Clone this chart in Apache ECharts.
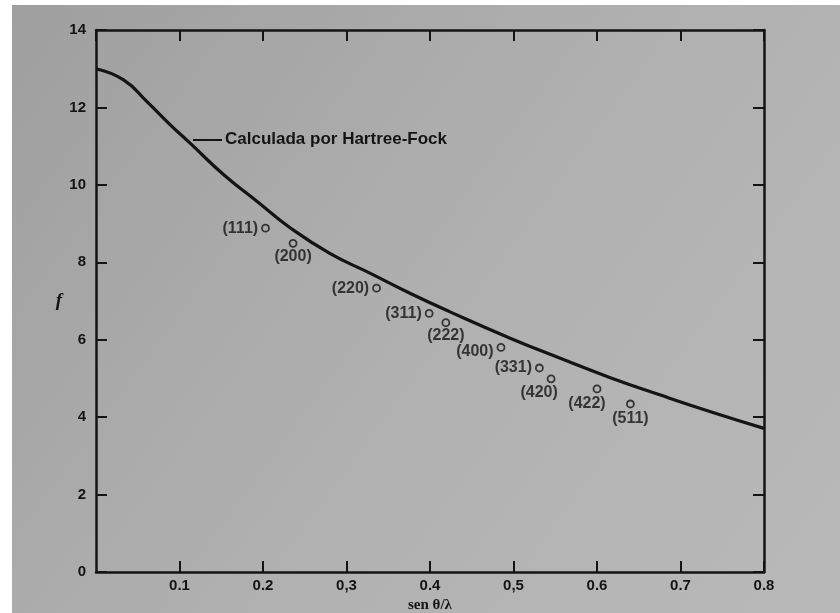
<!DOCTYPE html>
<html>
<head>
<meta charset="utf-8">
<script src="https://cdn.jsdelivr.net/npm/echarts@6/dist/echarts.min.js"></script>
<style>
  html, body { margin: 0; padding: 0; background: #fff; }
  #main { width: 840px; height: 613px; }
</style>
</head>
<body>
<div id="main"></div>
<script>
// curva calculada (Hartree-Fock)
const curveX = [0, 0.033, 0.061, 0.089, 0.113, 0.153, 0.193, 0.232, 0.280, 0.328, 0.376, 0.424, 0.496, 0.556, 0.616, 0.676, 0.736, 0.8];
const curveY = [13.0, 12.71, 12.15, 11.55, 11.07, 10.26, 9.57, 8.90, 8.23, 7.72, 7.20, 6.72, 6.04, 5.52, 5.02, 4.57, 4.14, 3.71];

// puntos medidos
const planes = ['(111)', '(200)', '(220)', '(311)', '(222)', '(400)', '(331)', '(420)', '(422)', '(511)'];
const pointX = [0.203, 0.236, 0.336, 0.399, 0.419, 0.485, 0.531, 0.545, 0.600, 0.640];
const pointY = [8.88, 8.49, 7.33, 6.68, 6.44, 5.80, 5.27, 4.99, 4.73, 4.34];

const xTickLabels = ['0', '0.1', '0.2', '0,3', '0.4', '0,5', '0.6', '0.7', '0.8'];

const chart = echarts.init(document.getElementById('main'));

const ink = '#141414';
const font = '"Liberation Sans", Arial, sans-serif';

// donde va cada etiqueta respecto al punto
const labelPos = {
  '(111)': ['left', [0, 0]],
  '(200)': ['bottom', [0, -2]],
  '(220)': ['left', [0, 0]],
  '(311)': ['left', [0, 0]],
  '(222)': ['bottom', [0, -2]],
  '(400)': ['left', [0, 4]],
  '(331)': ['left', [0, 0]],
  '(420)': ['bottom', [-12, -2]],
  '(422)': ['bottom', [-10, -1]],
  '(511)': ['bottom', [0, -1]]
};

const pointData = planes.map((name, i) => ({
  name: name,
  value: [pointX[i], pointY[i]],
  label: {
    position: labelPos[name][0],
    offset: labelPos[name][1]
  }
}));

const axisLine = { show: true, onZero: false, lineStyle: { color: ink, width: 2.5 } };
const axisTick = { show: true, inside: true, length: 11, lineStyle: { color: ink, width: 2 } };

const option = {
  backgroundColor: '#ffffff',
  animation: false,
  graphic: [
    {
      type: 'rect',
      z: -10,
      shape: { x: 12, y: 5, width: 828, height: 608 },
      style: {
        fill: new echarts.graphic.LinearGradient(0, 0, 1, 1, [
          { offset: 0, color: '#9f9f9f' },
          { offset: 0.5, color: '#b0b0b0' },
          { offset: 1, color: '#b9b9b9' }
        ])
      },
      silent: true
    },
    {
      type: 'line',
      shape: { x1: 193, y1: 140, x2: 222, y2: 140 },
      style: { stroke: ink, lineWidth: 2 }
    },
    {
      type: 'text',
      x: 225,
      y: 139,
      style: {
        text: 'Calculada por Hartree-Fock',
        font: 'bold 17px ' + font,
        fill: ink,
        verticalAlign: 'middle'
      }
    }
  ],
  grid: { left: 96, right: 76, top: 30, bottom: 41, containLabel: false, outerBoundsMode: 'none' },
  xAxis: [
    {
      type: 'value',
      min: 0,
      max: 0.8,
      interval: 0.1,
      name: 'sen θ/λ',
      nameLocation: 'middle',
      nameGap: 24,
      nameTextStyle: { color: ink, fontSize: 15, fontWeight: 'bold', fontFamily: '"Liberation Serif", serif' },
      axisLine: axisLine,
      axisTick: axisTick,
      splitLine: { show: false },
      axisLabel: {
        showMinLabel: false,
        color: ink,
        fontSize: 15,
        fontWeight: 'bold',
        fontFamily: font,
        margin: 6,
        formatter: (v) => xTickLabels[Math.round(v * 10)]
      }
    },
    {
      type: 'value',
      position: 'top',
      min: 0,
      max: 0.8,
      interval: 0.1,
      axisLine: axisLine,
      axisTick: axisTick,
      axisLabel: { show: false },
      splitLine: { show: false }
    }
  ],
  yAxis: [
    {
      type: 'value',
      min: 0,
      max: 14,
      interval: 2,
      name: 'f',
      nameLocation: 'middle',
      nameGap: 34,
      nameRotate: 0,
      nameTextStyle: { color: ink, fontSize: 19, fontStyle: 'italic', fontWeight: 'bold', fontFamily: '"Liberation Serif", serif' },
      axisLine: axisLine,
      axisTick: axisTick,
      splitLine: { show: false },
      axisLabel: {
        color: ink,
        fontSize: 15,
        fontWeight: 'bold',
        fontFamily: font,
        margin: 10
      }
    },
    {
      type: 'value',
      position: 'right',
      min: 0,
      max: 14,
      interval: 2,
      axisLine: axisLine,
      axisTick: axisTick,
      axisLabel: { show: false },
      splitLine: { show: false }
    }
  ],
  series: [
    {
      name: 'Hartree-Fock',
      type: 'line',
      smooth: 0.5,
      showSymbol: false,
      data: curveX.map((x, i) => [x, curveY[i]]),
      lineStyle: { color: ink, width: 3.2 },
      z: 3
    },
    {
      name: 'planos',
      type: 'scatter',
      symbol: 'circle',
      symbolSize: 7,
      data: pointData,
      itemStyle: { color: 'rgba(0,0,0,0)', borderColor: ink, borderWidth: 1.8 },
      label: {
        show: true,
        formatter: '{b}',
        color: ink,
        fontSize: 16,
        fontWeight: 'bold',
        fontFamily: font,
        distance: 3
      },
      z: 4
    }
  ]
};

chart.setOption(option);
</script>
</body>
</html>
